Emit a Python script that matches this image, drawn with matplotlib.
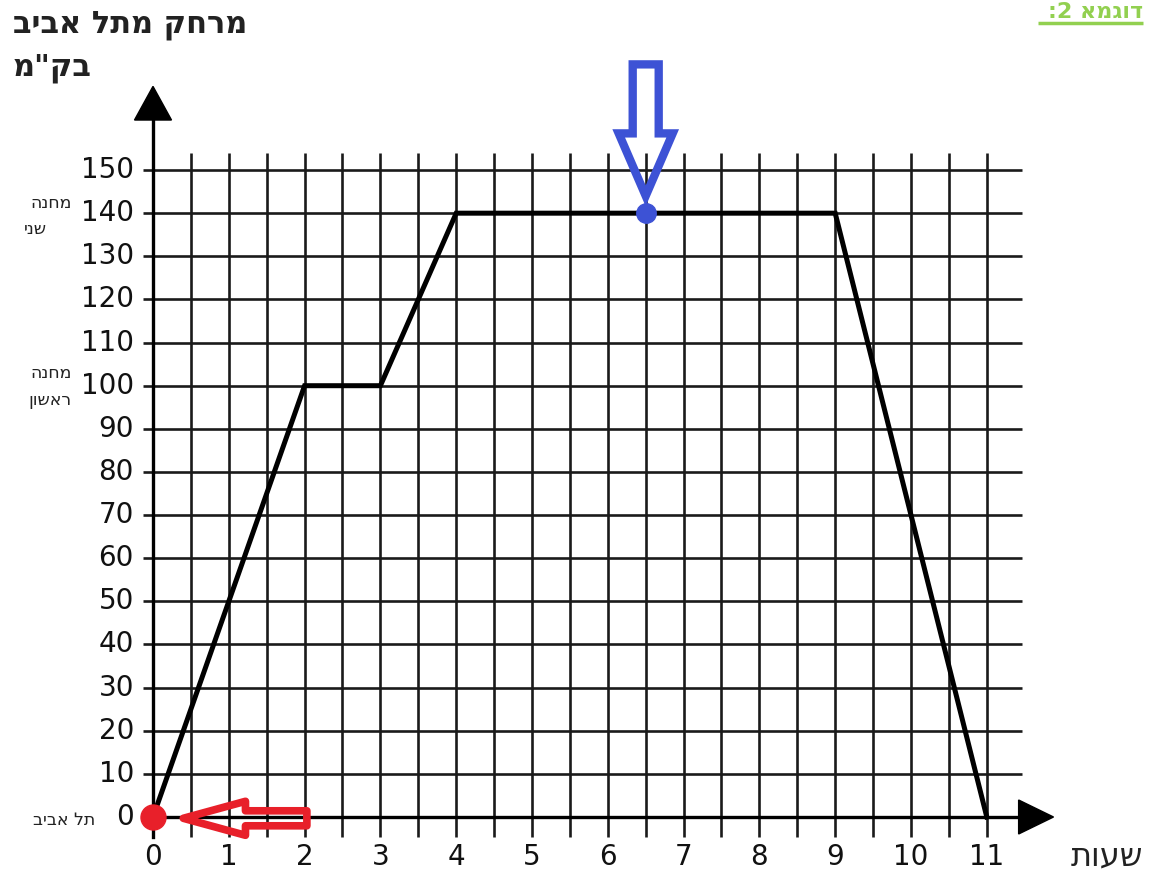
import matplotlib
matplotlib.use("Agg")
import matplotlib.pyplot as plt
from matplotlib.patches import FancyArrow, Polygon
import numpy as np

# ---- data ----
hours = [0, 2, 3, 4, 9, 11]
distance = [0, 100, 100, 140, 140, 0]
x_ticks = list(range(0, 12))
y_ticks = list(range(0, 160, 10))
blue_point = (6.5, 140)
red_point = (0, 0)

title1 = "מרחק מתל אביב"
title2 = 'בק"מ'
x_title = "שעות"
camp2 = ["מחנה", "שני"]
camp1 = ["מחנה", "ראשון"]
origin_lbl = "תל אביב"
example_lbl = "דוגמא"


def heb(s):
    # matplotlib lays text out left-to-right: reverse Hebrew into visual order
    return s[::-1]


W, H = 1163, 876
fig = plt.figure(figsize=(W / 100, H / 100), dpi=100)
ax = fig.add_axes([0, 0, 1, 1])
ax.set_axis_off()

# pixel mapping
x0px, xs = 153.0, 75.8
y0px, ys = 817.0, 4.313
ax.set_xlim(-x0px / xs, (W - x0px) / xs)
ax.set_ylim(-(H - y0px) / ys, y0px / ys)

def dx(p):  # pixel length -> x data
    return p / xs
def dy(p):
    return p / ys
def px(xp, yp):
    return (xp - x0px) / xs, (y0px - yp) / ys

grid_c = "#1a1a1a"
# horizontal grid lines
for v in y_ticks:
    ax.plot([-dx(10), 11.46], [v, v], color=grid_c, lw=1.9, solid_capstyle="butt", zorder=1)
# vertical grid lines
for h in np.arange(0.5, 11.01, 0.5):
    ax.plot([h, h], [-dy(20), 154], color=grid_c, lw=1.9, solid_capstyle="butt", zorder=1)

# axes with arrow heads
ax.plot([0, 0], [-dy(20), 161.6], color="black", lw=2.4, zorder=2)
ax.add_patch(Polygon([[-dx(18.5), 161.6], [dx(18.5), 161.6], [0, 169.4]],
                     closed=True, color="black", zorder=3))
ax.plot([0, 11.42], [0, 0], color="black", lw=2.4, zorder=2)
ax.add_patch(Polygon([[11.42, -dy(17)], [11.42, dy(17)], [11.88, 0]],
                     closed=True, color="black", zorder=3))

# tick labels
for v in y_ticks:
    ax.text(-dx(19), v, str(v), ha="right", va="center", fontsize=20,
            family="DejaVu Sans", color="#111111")
for h in x_ticks:
    ax.text(h, -dy(40), str(h), ha="center", va="center", fontsize=20,
            family="DejaVu Sans", color="#111111")

# main line
ax.plot(hours, distance, color="black", lw=3.6, solid_joinstyle="miter", zorder=4)

# points
ax.plot(*red_point, "o", color="#e8202a", ms=18, zorder=6)
ax.plot(*blue_point, "o", color="#3d52d5", ms=14, zorder=6)

# blue hollow arrow pointing down to the blue point
bx, by = blue_point
ax.add_patch(FancyArrow(bx, by + 34.5, 0, -30.5, width=dx(26), head_width=dx(54),
                        head_length=14.5, length_includes_head=True, fill=False,
                        edgecolor="#3d52d5", lw=6, joinstyle="miter", zorder=7))
# red hollow arrow pointing left to the red point
rx, ry = red_point
ax.add_patch(FancyArrow(rx + 2.03, ry - 0.3, -1.63, 0, width=dy(15), head_width=dy(34),
                        head_length=0.82, length_includes_head=True, fill=False,
                        edgecolor="#e8202a", lw=5.5, joinstyle="round", zorder=7))

# titles
ax.text(*px(13, 25), heb(title1), ha="left", va="center", fontsize=22,
        fontweight="bold", family="DejaVu Sans", color="#222222")
ax.text(*px(13, 68), heb(title2), ha="left", va="center", fontsize=22,
        fontweight="bold", family="DejaVu Sans", color="#222222")
ax.text(*px(1107, 857), heb(x_title), ha="center", va="center", fontsize=23,
        family="DejaVu Sans", color="#222222")

# side annotations
small = dict(fontsize=12.5, family="DejaVu Sans", color="#222222", va="center")
ax.text(*px(72, 203), heb(camp2[0]), ha="right", **small)
ax.text(*px(47, 229), heb(camp2[1]), ha="right", **small)
ax.text(*px(72, 373), heb(camp1[0]), ha="right", **small)
ax.text(*px(72, 400), heb(camp1[1]), ha="right", **small)
ax.text(*px(95, 820), heb(origin_lbl), ha="right", **small)

# green header
g = "#92d050"
ax.text(*px(1143, 12), ":2 " + heb(example_lbl), ha="right", va="center", fontsize=16,
        fontweight="bold", family="DejaVu Sans", color=g)
xa, ya = px(1038, 23)
xb, _ = px(1143, 23)
ax.plot([xa, xb], [ya, ya], color=g, lw=2.5, solid_capstyle="butt")

fig.savefig("out.png", dpi=100)
